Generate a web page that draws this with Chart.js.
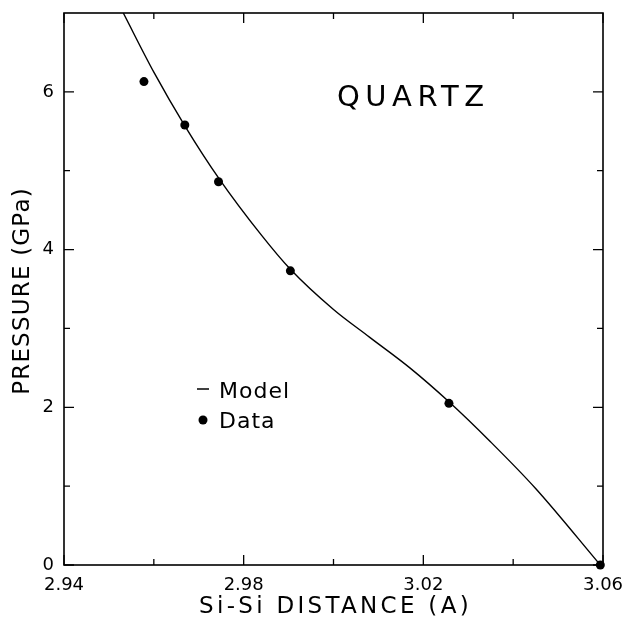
<!DOCTYPE html>
<html><head><meta charset="utf-8">
<script src="https://cdn.jsdelivr.net/npm/chart.js@4/dist/chart.umd.min.js"></script>
<style>html,body{margin:0;padding:0;background:#fff}#wrap{width:624px;height:628px}</style>
</head><body><div id="wrap"><canvas id="c" width="624" height="628"></canvas></div>
<script>
// Data points (Si-Si distance in Angstrom, pressure in GPa)
const dataX = [2.9578, 2.9669, 2.9744, 2.9904, 3.0257, 3.0594];
const dataY = [6.13, 5.58, 4.86, 3.73, 2.05, 0.0];
// Model curve
const modelX = [2.9532, 2.9600, 2.9669, 2.9744, 2.9840, 2.9904, 3.0000, 3.0080, 3.0170, 3.0257, 3.0350, 3.0450, 3.0594];
const modelY = [7.00, 6.25, 5.57, 4.91, 4.18, 3.75, 3.24, 2.89, 2.50, 2.07, 1.56, 0.97, 0.0];
// Tick values
const xTickLabels = [2.94, 2.98, 3.02, 3.06];
const xMinorTicks = [2.96, 3.00, 3.04];
const yTickLabels = [0, 2, 4, 6];
const yMinorTicks = [1, 3, 5];
const xTitle = 'Si-Si DISTANCE (A)';
const yTitle = 'PRESSURE (GPa)';
const panelLabel = 'QUARTZ';
const legendLabels = ['Model', 'Data'];

const FONT = 'DejaVu Sans';

const framePlugin = {
  id: 'frame',
  afterDatasetsDraw(chart) {
    const {ctx, chartArea: a, scales: {x, y}} = chart;
    ctx.save();
    ctx.strokeStyle = '#000';
    ctx.lineWidth = 1.6;
    ctx.strokeRect(a.left, a.top, a.right - a.left, a.bottom - a.top);
    ctx.lineWidth = 1.3;
    ctx.beginPath();
    const xt = (v, len) => {
      const p = x.getPixelForValue(v);
      ctx.moveTo(p, a.bottom); ctx.lineTo(p, a.bottom - len);
      ctx.moveTo(p, a.top); ctx.lineTo(p, a.top + len);
    };
    const yt = (v, len) => {
      const p = y.getPixelForValue(v);
      ctx.moveTo(a.left, p); ctx.lineTo(a.left + len, p);
      ctx.moveTo(a.right, p); ctx.lineTo(a.right - len, p);
    };
    xTickLabels.forEach(v => xt(v, 10));
    xMinorTicks.forEach(v => xt(v, 6));
    yTickLabels.forEach(v => yt(v, 10));
    yMinorTicks.forEach(v => yt(v, 6));
    ctx.stroke();

    ctx.fillStyle = '#000';
    // axis titles
    ctx.font = '23px "' + FONT + '"';
    ctx.letterSpacing = '3.3px';
    ctx.textAlign = 'center';
    ctx.textBaseline = 'middle';
    ctx.fillText(xTitle, (a.left + a.right) / 2 + 2, 607);
    ctx.save();
    ctx.translate(23, 291);
    ctx.rotate(-Math.PI / 2);
    ctx.letterSpacing = '1.2px';
    ctx.fillText(yTitle, 0, 0);
    ctx.restore();

    // panel label
    ctx.font = '29px "' + FONT + '"';
    ctx.letterSpacing = '5.5px';
    ctx.textAlign = 'left';
    ctx.textBaseline = 'alphabetic';
    ctx.fillText(panelLabel, 337, 106);

    // legend
    ctx.font = '22px "' + FONT + '"';
    ctx.letterSpacing = '1px';
    ctx.fillText(legendLabels[0], 219, 398);
    ctx.fillText(legendLabels[1], 219, 428);
    ctx.lineWidth = 1.5;
    ctx.beginPath();
    ctx.moveTo(197, 389); ctx.lineTo(209, 389);
    ctx.stroke();
    ctx.beginPath();
    ctx.arc(203, 420, 4.5, 0, Math.PI * 2);
    ctx.fill();
    ctx.restore();
  }
};

new Chart(document.getElementById('c'), {
  type: 'scatter',
  data: {
    datasets: [
      {
        label: legendLabels[0],
        data: modelX.map((v, i) => ({x: v, y: modelY[i]})),
        showLine: true,
        borderColor: '#000',
        borderWidth: 1.4,
        pointRadius: 0,
        fill: false,
        cubicInterpolationMode: 'monotone'
      },
      {
        label: legendLabels[1],
        data: dataX.map((v, i) => ({x: v, y: dataY[i]})),
        showLine: false,
        pointRadius: 4.5,
        backgroundColor: '#000',
        borderColor: '#000',
        borderWidth: 0,
        clip: false
      }
    ]
  },
  options: {
    responsive: false,
    animation: false,
    devicePixelRatio: 1,
    layout: {padding: {top: 13, right: 21, left: 0, bottom: 0}},
    plugins: {legend: {display: false}, tooltip: {enabled: false}},
    scales: {
      x: {
        type: 'linear', min: 2.94, max: 3.06,
        afterBuildTicks: s => { s.ticks = xTickLabels.map(v => ({value: v})); },
        afterFit: s => { s.height = 63; s.paddingLeft = 0; s.paddingRight = 0; },
        ticks: {padding: 10, font: {family: FONT, size: 18}, color: '#000', maxRotation: 0, autoSkip: false,
                callback: v => Number(v).toFixed(2)},
        grid: {display: false, drawTicks: false},
        border: {display: false}
      },
      y: {
        type: 'linear', min: 0, max: 7,
        afterBuildTicks: s => { s.ticks = yTickLabels.map(v => ({value: v})); },
        afterFit: s => { s.width = 64; s.paddingTop = 0; s.paddingBottom = 0; },
        ticks: {padding: 10, font: {family: FONT, size: 18}, color: '#000', autoSkip: false,
                callback: v => String(v)},
        grid: {display: false, drawTicks: false},
        border: {display: false}
      }
    }
  },
  plugins: [framePlugin]
});
</script>
</body></html>
